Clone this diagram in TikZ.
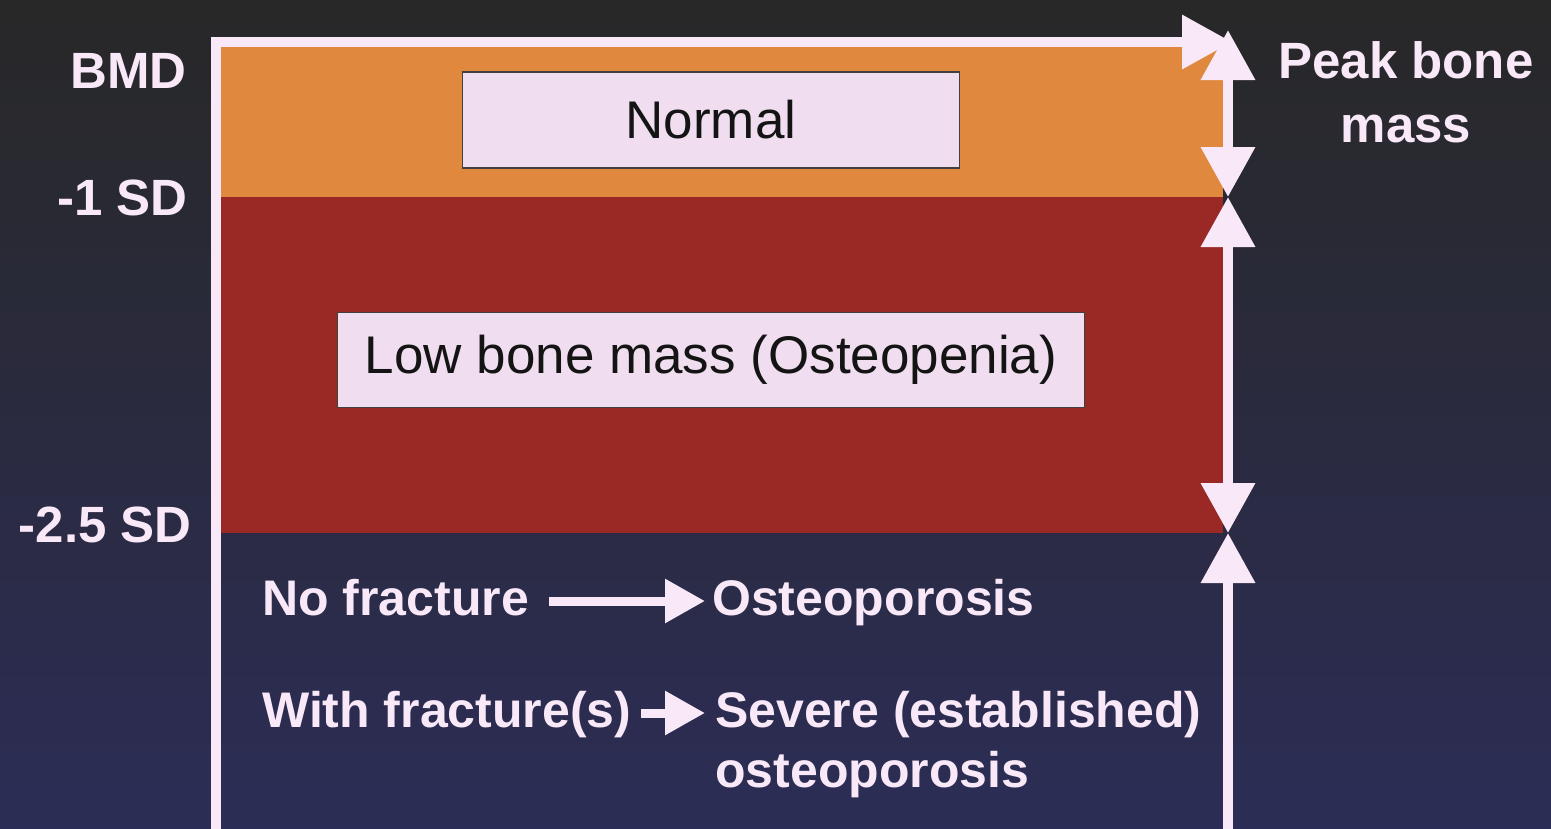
\documentclass[tikz,border=0pt]{standalone}
\usepackage{fontspec}
\setmainfont{Liberation Sans}
\usetikzlibrary{positioning,arrows.meta}

\definecolor{slidetop}{RGB}{40,40,40}
\definecolor{slidebot}{RGB}{44,45,86}
\definecolor{normalband}{RGB}{224,136,62}
\definecolor{lowband}{RGB}{154,40,36}
\definecolor{chalk}{RGB}{248,232,248}
\definecolor{boxfill}{RGB}{240,222,240}

\begin{document}
\begin{tikzpicture}[x=1pt, y=-1pt,
  axis/.style={draw=chalk, line width=10pt, >={Triangle[length=50pt,width=52pt]}},
  flow/.style={draw=chalk, line width=9pt, -{Triangle[length=40pt,width=42pt]}},
  lbl/.style={text=chalk, font=\fontsize{51}{63}\selectfont\bfseries, inner sep=0pt, text height=38pt, text depth=10pt},
  boxed/.style={draw=black!75, fill=boxfill, line width=1.5pt, text=black!92, font=\fontsize{53}{60}\selectfont}]

\useasboundingbox (0,0) rectangle (1551,828);
\shade[top color=slidetop, bottom color=slidebot] (0,0) rectangle (1551,828);

% bands
\fill[normalband] (221,47) rectangle (1223,197);
\fill[lowband] (221,197) rectangle (1223,533);

\node[boxed, minimum width=497pt, minimum height=96pt] (normal) at (711,120) {Normal};
\node[boxed, minimum width=747pt, minimum height=95pt] (low) at (711,360) {Low bone mass (Osteopenia)};

% axes
\coordinate (origin) at (216,840);
\coordinate (corner) at (216,42);
\coordinate (xend) at (1232,42);
\coordinate (pk) at (1228,30);
\coordinate (sd1) at (1228,197);
\coordinate (sd25) at (1228,533);
\coordinate (base) at (1228,840);

\draw[axis,->] (origin) -- (corner) -- (xend);
\draw[axis,<->] (sd1) -- (pk);
\draw[axis,<->] (sd1) -- (sd25);
\draw[axis,<-] (sd25) -- (base);

% left scale
\node[lbl, anchor=base east] (bmd) at (187,88) {BMD};
\node[lbl, anchor=base east] (onesd) at (188,215) {-1 SD};
\node[lbl, anchor=base east] (twosd) at (192,542) {-2.5 SD};

\node[lbl, align=center, text height=, text depth=, font=\fontsize{51}{64}\selectfont\bfseries, anchor=north] (peak) at (1406,41) {Peak bone\\mass};

% below -2.5 SD
\node[lbl, anchor=base west, font=\fontsize{50}{60}\selectfont\bfseries] (nofrac) at (262,615) {No fracture};
\node[lbl, anchor=base west, font=\fontsize{50}{60}\selectfont\bfseries] (osteo) at (712,615) {Osteoporosis};
\node[lbl, anchor=base west, font=\fontsize{50}{60}\selectfont\bfseries] (withfrac) at (262,727) {With fracture(s)};
\node[lbl, anchor=base west, font=\fontsize{50}{60}\selectfont\bfseries] (severe) at (715,727) {Severe (established)};
\node[lbl, anchor=base west, font=\fontsize{50}{60}\selectfont\bfseries] (severe2) at (715,787) {osteoporosis};

\path
    (nofrac) edge[flow, shorten <=20pt, shorten >=7pt] (osteo)
    (withfrac) edge[flow, shorten <=10pt, shorten >=10pt] (severe);
\end{tikzpicture}
\end{document}
